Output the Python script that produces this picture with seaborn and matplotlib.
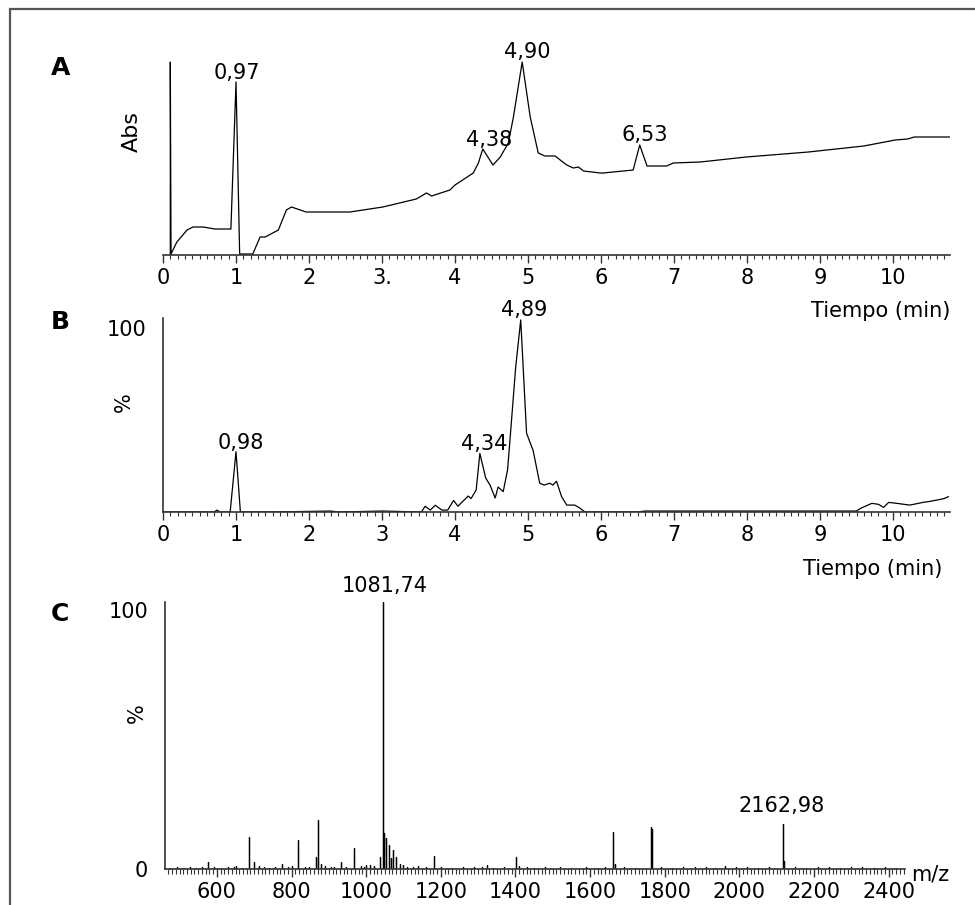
import numpy as np
import pandas as pd
import matplotlib
matplotlib.use("Agg")
import matplotlib.pyplot as plt
from matplotlib.ticker import FixedLocator, MultipleLocator
from matplotlib.patches import Rectangle
import seaborn as sns

# ---------------- data ----------------
# Panel A: UV chromatogram (time in min, absorbance arbitrary units)
a_time = [0.10, 0.10, 0.11, 0.19, 0.33, 0.41, 0.55, 0.71, 0.93, 1.00, 1.05, 1.23, 1.33, 1.40,
          1.58, 1.69, 1.76, 1.96, 2.56, 3.01, 3.47, 3.61, 3.68, 3.93, 4.00, 4.25, 4.32, 4.38,
          4.52, 4.62, 4.73, 4.80, 4.92, 5.03, 5.14, 5.23, 5.37, 5.53, 5.62, 5.69, 5.76, 5.99,
          6.03, 6.44, 6.53, 6.63, 6.90, 6.99, 7.36, 7.99, 8.84, 9.60, 10.03, 10.20, 10.29, 10.78]
a_abs = [0, 193, 1, 13, 25, 28, 28, 26, 26, 173, 1, 1, 18, 18,
         25, 45, 48, 43, 43, 48, 56, 62, 59, 65, 70, 82, 92, 106,
         90, 98, 112, 138, 193, 138, 102, 99, 99, 90, 87, 88, 84, 82,
         82, 85, 110, 89, 89, 92, 93, 98, 103, 109, 115, 116, 118, 118]

# Panel B: total ion chromatogram (%)
b_time = [0.00, 0.70, 0.74, 0.78, 0.92, 1.00, 1.06, 1.50, 2.30, 2.40, 3.00, 3.54, 3.59, 3.66,
          3.73, 3.82, 3.90, 3.98, 4.04, 4.18, 4.22, 4.29, 4.34, 4.42, 4.48, 4.55, 4.59, 4.66,
          4.72, 4.76, 4.83, 4.90, 4.98, 5.07, 5.16, 5.22, 5.30, 5.34, 5.39, 5.46, 5.53, 5.64,
          5.71, 5.78, 6.50, 6.60, 8.30, 9.50, 9.55, 9.62, 9.71, 9.80, 9.87, 9.94, 10.05, 10.15,
          10.23, 10.41, 10.50, 10.60, 10.70, 10.76]
b_pct = [0, 0, 1, 0, 0, 31.4, 0, 0, 0.5, 0, 0.5, 0, 3, 1,
         3.5, 1, 1, 6, 3, 8.3, 7, 11.5, 30.5, 17.7, 14, 7.3, 13, 10.6,
         22, 41, 75, 100, 41, 32, 15, 14, 15, 14, 16, 8, 3.6, 3.6,
         2, 0, 0, 0.5, 0.5, 0.5, 1.8, 3, 4.5, 4, 2.4, 5, 4.5, 4,
         3.6, 5, 5.5, 6.2, 7, 8]

# Panel C: mass spectrum (m/z, relative intensity %)
c_mz = [577, 651, 687, 700, 774, 818, 866, 870, 879, 932, 968, 1000, 1010, 1037, 1044, 1047,
        1054, 1062, 1066, 1073, 1080, 1090, 1100, 1140, 1182, 1323, 1402, 1410, 1662, 1666,
        1764, 1766, 1962, 2117, 2120]
c_int = [2.5, 1, 12, 2.5, 2, 11, 4.5, 18.4, 2, 2.5, 7.9, 1.5, 1.5, 4.5, 100, 13.5,
         11.7, 9, 4, 7, 4.5, 2, 1.5, 1, 5, 1.5, 4.6, 1, 14, 2,
         15.8, 15, 1, 17, 3]
noise_mz = [475, 492, 510, 528, 545, 560, 592, 612, 630, 645, 668, 712, 725, 740, 757, 790, 800,
            835, 848, 890, 905, 915, 945, 985, 995, 1020, 1110, 1125, 1160, 1200, 1230, 1260,
            1290, 1310, 1340, 1370, 1430, 1450, 1480, 1520, 1550, 1590, 1620, 1640, 1690, 1720,
            1790, 1820, 1850, 1880, 1910, 1935, 1990, 2020, 2050, 2080, 2150, 2180, 2210, 2240,
            2270, 2300, 2330, 2360, 2390, 2420]
noise_int = [0.5, 0.8, 0.4, 0.7, 0.5, 0.9, 0.6, 0.5, 0.8, 0.6, 0.5, 1.2, 0.7, 0.5, 0.9, 0.6, 1.0,
             0.6, 0.8, 1.0, 0.7, 0.9, 0.6, 1.1, 0.8, 1.2, 0.9, 0.7, 0.8, 0.6, 0.5, 0.7,
             0.6, 0.8, 0.5, 0.6, 0.7, 0.5, 0.6, 0.7, 0.5, 0.6, 0.5, 0.7, 0.6, 0.5,
             0.6, 0.5, 0.7, 0.6, 0.8, 0.5, 0.6, 0.7, 0.5, 0.6, 0.7, 0.5, 0.6, 0.8,
             0.5, 0.6, 0.7, 0.5, 0.6, 0.5]

a_ticks = [0, 1, 2, 3, 4, 5, 6, 7, 8, 9, 10]
a_ticklabels = ["0", "1", "2", "3.", "4", "5", "6", "7", "8", "9", "10"]
b_ticklabels = ["0", "1", "2", "3", "4", "5", "6", "7", "8", "9", "10"]
c_ticks = [600, 800, 1000, 1200, 1400, 1600, 1800, 2000, 2200, 2400]

a_peaks = [("0,97", 1.00, 173), ("4,38", 4.38, 106), ("4,90", 4.92, 193), ("6,53", 6.53, 110)]
b_peaks = [("0,98", 1.00, 31.4), ("4,34", 4.34, 30.5), ("4,89", 4.90, 100)]
c_peaks = [("1081,74", 1044, 100), ("2162,98", 2117, 17)]

# ---------------- style ----------------
sns.set_style("white")
plt.rcParams["font.family"] = ["DejaVu Sans"]
plt.rcParams["text.color"] = "black"
plt.rcParams["axes.labelcolor"] = "black"
plt.rcParams["xtick.color"] = "black"
plt.rcParams["ytick.color"] = "black"
plt.rcParams["xtick.direction"] = "out"
plt.rcParams["ytick.direction"] = "out"
plt.rcParams["xtick.bottom"] = True

W, H = 975, 905
fig = plt.figure(figsize=(W / 100, H / 100), dpi=100)


def rect(x0, y0, x1, y1):
    return [x0 / W, 1 - y1 / H, (x1 - x0) / W, (y1 - y0) / H]


def ftext(x, y, s, **kw):
    fig.text(x / W, 1 - y / H, s, **kw)


line_kw = dict(color="black", linewidth=0.9, sort=False, estimator=None, legend=False)
spine_col = "#333333"
FS = 15

# ---------------- Panel A ----------------
axA = fig.add_axes(rect(163, 55, 950, 255))
dfA = pd.DataFrame({"t": a_time, "v": a_abs})
sns.lineplot(data=dfA, x="t", y="v", ax=axA, **line_kw)
axA.set_xlim(0, 10.78)
axA.set_ylim(0, 200)

# ---------------- Panel B ----------------
axB = fig.add_axes(rect(163, 318, 950, 512))
dfB = pd.DataFrame({"t": b_time, "v": b_pct})
sns.lineplot(data=dfB, x="t", y="v", ax=axB, **line_kw)
axB.set_xlim(0, 10.78)
axB.set_ylim(0, 101)

# ---------------- Panel C ----------------
axC = fig.add_axes(rect(165, 602, 905, 869))
allmz = np.array(c_mz + noise_mz, dtype=float)
allint = np.array(c_int + noise_int, dtype=float)
order = np.argsort(allmz)
stick_x, stick_y = [], []
for m, h in zip(allmz[order], allint[order]):
    stick_x += [m, m, m]
    stick_y += [0, h, 0]
dfC = pd.DataFrame({"mz": stick_x, "i": stick_y})
sns.lineplot(data=dfC, x="mz", y="i", ax=axC, **line_kw)
axC.set_xlim(461, 2444)
axC.set_ylim(0, 100)

for ax in (axA, axB, axC):
    ax.set_xlabel("")
    ax.set_ylabel("")
    ax.set_facecolor("none")
    for s in ("top", "right"):
        ax.spines[s].set_visible(False)
    ax.spines["bottom"].set_color(spine_col)
    ax.spines["bottom"].set_linewidth(1.2)
    ax.spines["left"].set_color(spine_col)
    ax.spines["left"].set_linewidth(1.2)
    ax.tick_params(axis="x", which="both", bottom=True, top=False)
    ax.tick_params(axis="x", which="major", length=6, width=1.0, color=spine_col,
                   labelsize=FS, pad=3, labelcolor="black")
    ax.tick_params(axis="x", which="minor", length=3, width=0.8, color=spine_col)
    ax.tick_params(axis="y", which="both", left=False, length=0, labelsize=FS,
                   labelcolor="black")

axA.spines["left"].set_visible(False)
axA.set_yticks([])
axA.xaxis.set_major_locator(FixedLocator(a_ticks))
axA.set_xticklabels(a_ticklabels)
axA.xaxis.set_minor_locator(MultipleLocator(0.1))

axB.xaxis.set_major_locator(FixedLocator(a_ticks))
axB.set_xticklabels(b_ticklabels)
axB.xaxis.set_minor_locator(MultipleLocator(0.1))
axB.set_yticks([100])
axB.set_yticklabels(["100"])
axB.tick_params(axis="y", pad=12)

axC.xaxis.set_major_locator(FixedLocator(c_ticks))
axC.set_xticklabels([str(t) for t in c_ticks])
axC.xaxis.set_minor_locator(MultipleLocator(10))
axC.tick_params(axis="x", which="minor", length=3.5)
axC.set_yticks([0, 100])
axC.set_yticklabels(["0", "100"])
axC.tick_params(axis="y", pad=12)

for ax in (axB, axC):
    for tk in ax.yaxis.get_major_ticks():
        if abs(tk.get_loc() - 100) < 1e-6:
            tk.label1.set_verticalalignment("top")

# ---------------- peak labels ----------------
def peak_label(ax, txt, x, y, dx, dy):
    ax.annotate(txt, (x, y), xytext=(dx * 0.72, dy * 0.72), textcoords="offset points",
                ha="center", va="baseline", fontsize=FS, color="black")

a_off = {"0,97": (1, 3.5), "4,38": (6, 3), "4,90": (5, 4), "6,53": (5, 4.5)}
for txt, x, y in a_peaks:
    peak_label(axA, txt, x, y, *a_off[txt])
b_off = {"0,98": (4.5, 2.5), "4,34": (4, 3), "4,89": (3, 3.5)}
for txt, x, y in b_peaks:
    peak_label(axB, txt, x, y, *b_off[txt])
c_off = {"1081,74": (2.5, 9.5), "2162,98": (-1.5, 12)}
for txt, x, y in c_peaks:
    peak_label(axC, txt, x, y, *c_off[txt])

# ---------------- axis titles & panel letters ----------------
ftext(950, 311, "Tiempo (min)", ha="right", va="center", fontsize=FS)
ftext(942, 569, "Tiempo (min)", ha="right", va="center", fontsize=FS)
ftext(911, 874, "m/z", ha="left", va="center", fontsize=FS)
ftext(132, 132, "Abs", ha="center", va="center", rotation=90, fontsize=16)
ftext(124, 402, "%", ha="center", va="center", rotation=90, fontsize=FS)
ftext(137, 713, "%", ha="center", va="center", rotation=90, fontsize=FS)
ftext(61, 68, "A", ha="center", va="center", fontsize=18, fontweight="bold")
ftext(60, 322, "B", ha="center", va="center", fontsize=18, fontweight="bold")
ftext(60, 614, "C", ha="center", va="center", fontsize=18, fontweight="bold")

# outer frame
fig.patches.append(Rectangle((9.5 / W, -0.05), 1.2, 1 - 9.5 / H + 0.05, transform=fig.transFigure,
                             fill=False, edgecolor="#555555", linewidth=1.6))

fig.savefig("out.png", dpi=100, facecolor="white")
